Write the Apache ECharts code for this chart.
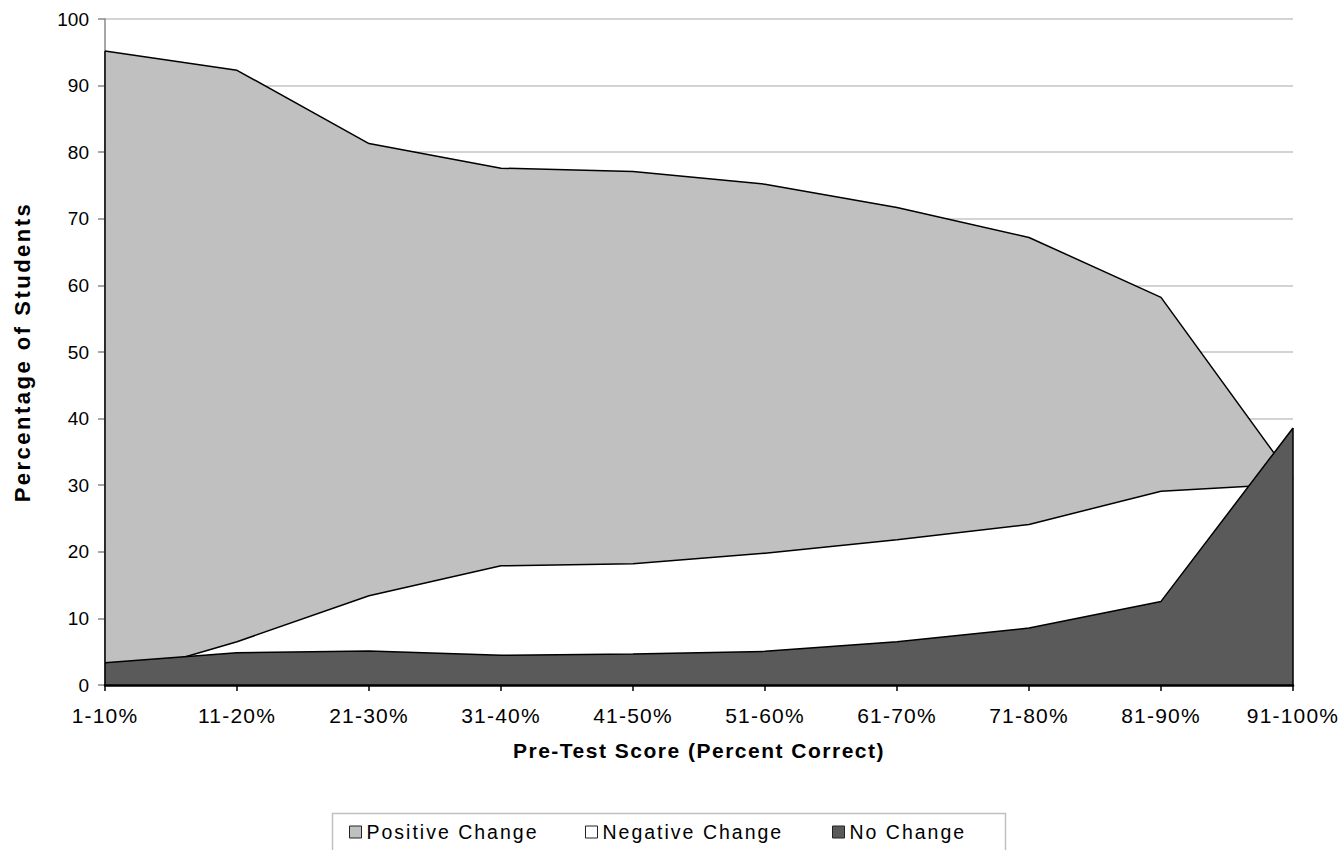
<!DOCTYPE html>
<html>
<head>
<meta charset="utf-8">
<script src="https://cdn.jsdelivr.net/npm/echarts@6/dist/echarts.min.js"></script>
<style>
html,body{margin:0;padding:0;background:#fff;}
#chart{width:1343px;height:850px;}
/* reference text is drawn with wide character spacing */
#chart text[style*="21px"]:not([style*="bold"]), #chart text[font-size="21"]:not([font-weight="bold"]) { letter-spacing: 1.2px; }
#chart text[style*="bold"][style*="21px"], #chart text[font-weight="bold"][font-size="21"] { letter-spacing: 1.5px; }
#chart text[style*="bold"][style*="22px"], #chart text[font-weight="bold"][font-size="22"] { letter-spacing: 2.5px; }
#chart text[style*="19.5px"], #chart text[font-size="19.5"] { letter-spacing: 2px; }
</style>
</head>
<body>
<div id="chart"></div>
<script>
const categories = ['1-10%','11-20%','21-30%','31-40%','41-50%','51-60%','61-70%','71-80%','81-90%','91-100%'];
const positiveChange = [95.2, 92.3, 81.3, 77.6, 77.1, 75.2, 71.7, 67.2, 58.2, 30.9];
const negativeChange = [0.7, 6.5, 13.4, 17.9, 18.2, 19.8, 21.8, 24.1, 29.1, 30.2];
const noChange = [3.35, 4.85, 5.1, 4.45, 4.65, 5.05, 6.5, 8.55, 12.55, 38.6];
const yTicks = [0,10,20,30,40,50,60,70,80,90,100];
const seriesNames = ['Positive Change', 'Negative Change', 'No Change'];

const FONT = '"Liberation Sans", Arial, sans-serif';
const FILLS = ['#c0c0c0', '#ffffff', '#5a5a5a'];
const chart = echarts.init(document.getElementById('chart'), null, {renderer:'svg'});

function areaSeries(i, data, edge) {
  const s = {
    name: seriesNames[i],
    type: 'line',
    data: data,
    z: 2 + i,
    symbol: 'none',
    silent: true,
    animation: false,
    lineStyle: {color: '#000', width: 1.5},
    itemStyle: {color: FILLS[i], borderColor: '#000', borderWidth: 1},
    areaStyle: {color: FILLS[i], opacity: 1}
  };
  if (edge !== undefined) {
    s.markLine = {
      silent: true,
      symbol: ['none','none'],
      label: {show: false},
      animation: false,
      lineStyle: {color: '#000', width: 1.5, type: 'solid'},
      data: [[{coord: [categories[edge], 0]}, {coord: [categories[edge], data[edge]]}]]
    };
  }
  return s;
}

function legendFor(i, left) {
  return {
    left: left,
    top: 822,
    padding: 0,
    itemWidth: 12,
    itemHeight: 12,
    icon: 'rect',
    selectedMode: false,
    textStyle: {fontFamily: FONT, fontSize: 19.5, color: '#000'},
    data: [{name: seriesNames[i], itemStyle: {color: FILLS[i], borderColor: '#222', borderWidth: 1}}]
  };
}

const option = {
  backgroundColor: '#fff',
  animation: false,
  grid: {left: 105, right: 50, top: 19, bottom: 165, containLabel: false},
  graphic: [{
    type: 'rect',
    left: 330, top: 811,
    shape: {width: 673, height: 70},
    style: {fill: 'none', stroke: '#c0c0c0', lineWidth: 1.5},
    silent: true, z: 0
  }],
  legend: [legendFor(0, 349), legendFor(1, 585), legendFor(2, 832)],
  xAxis: {
    type: 'category',
    data: categories,
    boundaryGap: false,
    name: 'Pre-Test Score (Percent Correct)',
    nameLocation: 'middle',
    nameGap: 55,
    nameTextStyle: {fontFamily: FONT, fontSize: 21, fontWeight: 'bold', color: '#000', verticalAlign: 'top'},
    axisLine: {show: true, lineStyle: {color: '#000', width: 2.5}},
    axisTick: {show: true, inside: false, length: 6, lineStyle: {color: '#000', width: 1.5}},
    axisLabel: {fontFamily: FONT, fontSize: 21, color: '#000', margin: 30, interval: 0, verticalAlign: 'middle'},
    splitLine: {show: false},
    z: 10
  },
  yAxis: {
    type: 'value',
    min: yTicks[0],
    max: yTicks[yTicks.length-1],
    interval: 10,
    name: 'Percentage of Students',
    nameLocation: 'middle',
    nameGap: 72,
    nameTextStyle: {fontFamily: FONT, fontSize: 22, fontWeight: 'bold', color: '#000'},
    axisLine: {show: true, lineStyle: {color: '#888', width: 1.5}},
    axisTick: {show: true, inside: false, length: 7, lineStyle: {color: '#888', width: 1.5}},
    axisLabel: {fontFamily: FONT, fontSize: 19, color: '#000', margin: 16},
    splitLine: {show: true, lineStyle: {color: '#c4c4c4', width: 1.5}}
  },
  series: [
    areaSeries(0, positiveChange, 0),
    areaSeries(1, negativeChange),
    areaSeries(2, noChange, categories.length - 1)
  ]
};
chart.setOption(option);
</script>
</body>
</html>
